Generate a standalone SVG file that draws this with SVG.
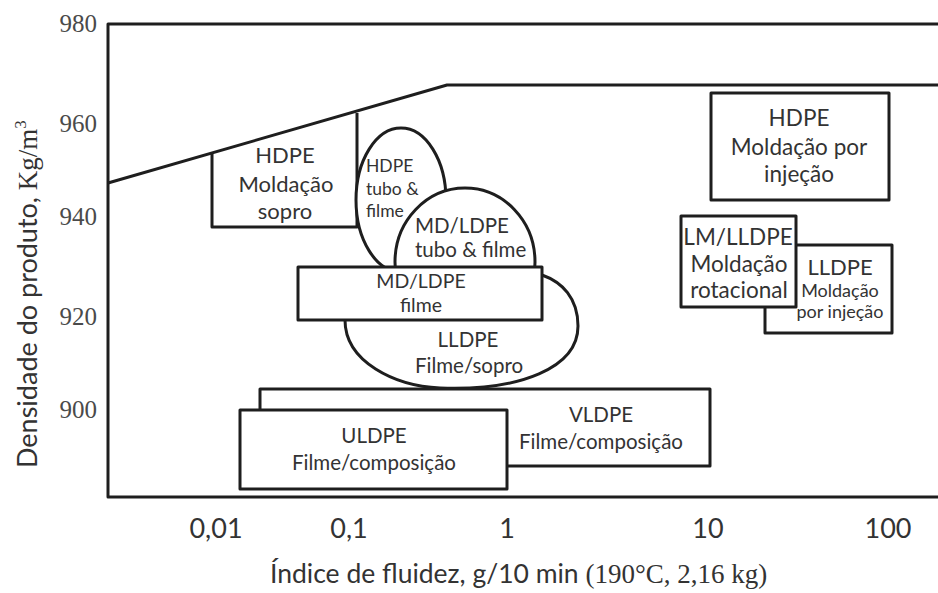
<svg xmlns="http://www.w3.org/2000/svg" width="938" height="593" viewBox="0 0 938 593">
<style>
.ln{fill:none;stroke:#1e1e1e;stroke-width:3;stroke-linejoin:round}
.bx{fill:#fff;stroke:#1e1e1e;stroke-width:3;stroke-linejoin:round}
.t{font-family:Lato,"Open Sans",sans-serif;fill:#333;text-anchor:middle}
.ts{font-family:Lato,"Open Sans",sans-serif;fill:#333;text-anchor:start}
.s{font-family:"Liberation Serif",serif;fill:#4a4a4a}
.tick{font-family:Lato,"Open Sans",sans-serif;fill:#333;font-size:27px;text-anchor:middle}
</style>
<rect width="938" height="593" fill="#fff"/>
<g id="axes">
<polyline class="ln" points="938,24 108,24 108,497 938,497"/>
<polyline class="ln" points="108,183 447,85 938,85"/>
<g class="s" font-size="25" text-anchor="end">
<text x="97" y="32">980</text>
<text x="97" y="132">960</text>
<text x="97" y="225">940</text>
<text x="97" y="325">920</text>
<text x="97" y="418">900</text>
</g>
<text class="tick" x="216" y="538">0,01</text>
<text class="tick" x="349" y="538">0,1</text>
<text class="tick" x="507" y="538">1</text>
<text class="tick" x="708" y="538">10</text>
<text class="tick" x="888" y="538">100</text>
<text x="270" y="583" font-size="26.5" font-family="Lato, Open Sans, sans-serif" fill="#333">Índice de fluidez, g/10 min <tspan font-family="Liberation Serif, serif" font-size="27">(190°C, 2,16 kg)</tspan></text>
<text transform="translate(37,468) rotate(-90)" font-size="27" font-family="Lato, Open Sans, sans-serif" fill="#333">Densidade do produto, <tspan font-family="Liberation Serif, serif" font-size="27">Kg/m</tspan><tspan font-family="Liberation Serif, serif" font-size="17" dy="-11">3</tspan></text>
</g>
<g id="connectors"></g>
<g id="hdpe-sopro">
<polyline class="ln" points="212,153 212,227 357,227 357,113"/>
<text class="t" font-size="22"><tspan x="285" y="163">HDPE</tspan><tspan x="286" y="192">Moldação</tspan><tspan x="285" y="219">sopro</tspan></text>
</g>
<g id="hdpe-tubo">
<ellipse class="bx" cx="401" cy="200" rx="45" ry="72"/>
<text class="ts" font-size="17.5"><tspan x="366" y="172">HDPE</tspan><tspan x="366" y="195">tubo &amp;</tspan><tspan x="366" y="217">filme</tspan></text>
</g>
<g id="mdldpe-tubo">
<ellipse class="bx" cx="465" cy="262" rx="70" ry="74"/>
<text class="ts" font-size="20.5"><tspan x="415" y="233">MD/LDPE</tspan><tspan x="415" y="257">tubo &amp; filme</tspan></text>
</g>
<g id="lldpe-filme">
<path class="bx" d="M345,275 L345,320 C345,362 395,386 440,388 C520,391 578,368 578,326 C578,298 562,282 542,275 Z"/>
<text class="t" font-size="20.5"><tspan x="468" y="347">LLDPE</tspan><tspan x="469" y="373">Filme/sopro</tspan></text>
</g>
<g id="mdldpe-filme">
<rect class="bx" x="298" y="267" width="244" height="53"/>
<text class="t" font-size="19.5"><tspan x="421" y="288">MD/LDPE</tspan><tspan x="421" y="312">filme</tspan></text>
</g>
<g id="vldpe">
<rect class="bx" x="260" y="389" width="450" height="77"/>
<text class="t" font-size="20.5"><tspan x="601" y="422">VLDPE</tspan><tspan x="601" y="449">Filme/composição</tspan></text>
</g>
<g id="uldpe">
<rect class="bx" x="240" y="410" width="267" height="79"/>
<text class="t" font-size="20.5"><tspan x="374" y="443">ULDPE</tspan><tspan x="374" y="470">Filme/composição</tspan></text>
</g>
<g id="hdpe-injecao">
<rect class="bx" x="711" y="93" width="178" height="107"/>
<text class="t" font-size="22.5"><tspan x="799" y="126">HDPE</tspan><tspan x="799" y="155">Moldação por</tspan><tspan x="799" y="182">injeção</tspan></text>
</g>
<g id="lldpe-injecao">
<rect class="bx" x="765" y="245" width="127" height="88"/>
<text class="t"><tspan x="840" y="275" font-size="22">LLDPE</tspan><tspan x="840" y="297" font-size="18">Moldação</tspan><tspan x="840" y="318" font-size="18">por injeção</tspan></text>
</g>
<g id="lmlldpe">
<rect class="bx" x="681" y="216" width="115" height="91"/>
<text class="t" font-size="22.5"><tspan x="738" y="245">LM/LLDPE</tspan><tspan x="739" y="272">Moldação</tspan><tspan x="739" y="298">rotacional</tspan></text>
</g>
</svg>
